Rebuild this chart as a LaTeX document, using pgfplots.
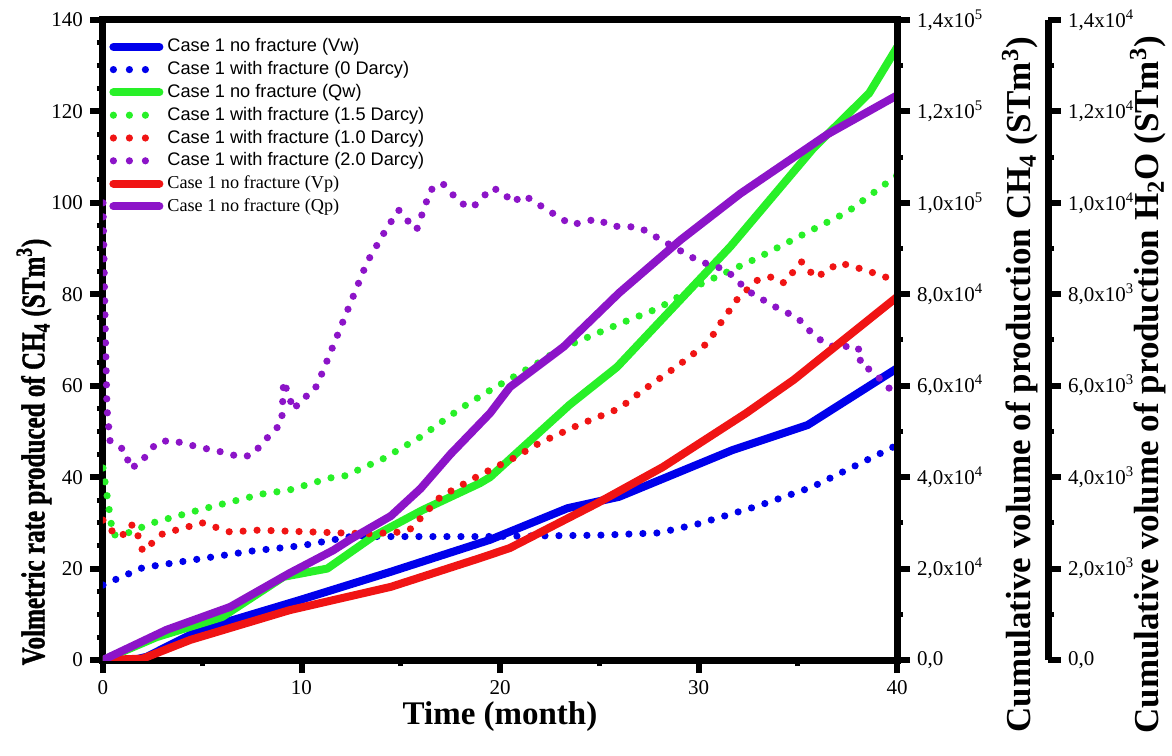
\documentclass[border=0pt]{standalone}
\usepackage{pgfplots}
\pgfplotsset{compat=1.18}
\usepackage{fontspec}
\setmainfont{Liberation Serif}
\newfontfamily\arial{Liberation Sans}
\newfontfamily\heavy{Liberation Serif}[BoldFeatures={FakeBold=1.5}]
\definecolor{cblue}{RGB}{0,0,235}
\definecolor{cgreen}{RGB}{40,240,40}
\definecolor{cred}{RGB}{240,20,20}
\definecolor{cpurple}{RGB}{140,20,200}
\pgfplotsset{
  base/.style={scale only axis, width=397pt, height=320pt,
    xmin=0, xmax=40, ymin=0, ymax=140,
    axis line style={line width=3.5pt, black},
    tick align=outside, major tick length=6.5pt, minor tick length=3pt,
    every major tick/.append style={line width=3pt, black},
    every minor tick/.append style={line width=2.5pt, black},
    /pgf/number format/assume math mode=true,
    tick label style={font=\fontsize{10.5}{12}\selectfont},
  },
  solidS/.style={line width=4pt, line join=round, line cap=round},
  dotS/.style={line width=3.6pt, line cap=round, dash pattern=on 0pt off 7pt,
    legend image post style={dash pattern=on 0pt off 8pt}},
}
\begin{document}
\begin{tikzpicture}
\begin{axis}[base, at={(0,0)}, anchor=south west,
  xtick={0,10,...,40}, minor x tick num=1,
  ytick={0,20,...,140}, minor y tick num=3,
  xtick pos=bottom, ytick pos=left,
  xlabel={Time (month)},
  xlabel style={at={(axis description cs:0.5,-0.088)}, anchor=center, font=\bfseries\fontsize{16.5}{18}\selectfont},
  ylabel={\scalebox{0.76}[1]{Volmetric rate produced of CH\textsubscript{4} (STm\textsuperscript{3})}},
  ylabel style={at={(axis description cs:-0.087,0.325)}, anchor=center, rotate=0, font=\heavy\bfseries\fontsize{16.5}{18}\selectfont},
  legend image code/.code={\draw[#1] (0pt,0pt) -- (23pt,0pt);},
  legend cell align=left,
  legend style={at={(0,1)}, anchor=north west, xshift=3pt, yshift=-7.5pt,
    draw=none, fill=none, inner xsep=0pt, inner ysep=0pt, row sep=0pt,
    font=\fontsize{9.1}{11}\selectfont,
    nodes={inner ysep=1.2pt, inner xsep=2pt, text height=7pt, text depth=2pt}},
]
\addplot[cblue, solidS] coordinates {(0,0)(1.5,0)(2.2,0.7)(4.9,6.6)(9.9,13.1)(14.5,19.3)(19.5,26.3)(23.4,33.2)(26,35.7)(31.7,45.9)(35.5,51.4)(40,63.8)};
\addlegendentry{\arial Case 1 no fracture (Vw)}
\addplot[cblue, dotS] coordinates {(0,16.4)(2,20.2)(5,22.2)(7.6,23.9)(10,25)(12.6,27.1)(14,27)(19,27)(25,27.3)(28,27.8)(30,29.8)(33,33.7)(35.7,37.8)(38,42.7)(40,47)};
\addlegendentry{\arial Case 1 with fracture (0 Darcy)}
\addplot[cgreen, solidS] coordinates {(0,0)(2.7,5)(6,9.4)(9.1,18.2)(11.3,20)(13.6,27)(16.1,32.8)(19,38.7)(19.5,40)(23.5,55.8)(25.9,64.1)(31.6,90.4)(35.8,112)(38.6,124)(40,134)};
\addlegendentry{\arial Case 1 no fracture (Qw)}
\addplot[cgreen, dotS] coordinates {(0,42)(0.5,27.3)(1.2,27.7)(2.5,30)(5,33)(8,36.3)(9.4,37.2)(11.4,39.8)(12.2,40.3)(14.1,44)(16,48.8)(18,55)(19.5,59)(22,65.2)(23,68)(26,73.5)(28,77)(30,82)(33,88)(35.5,93.6)(37.5,98)(40,106)};
\addlegendentry{\arial Case 1 with fracture (1.5 Darcy)}
\addplot[cred, dotS] coordinates {(0,30.6)(0.5,28)(0.95,27)(1.3,29.5)(1.6,29.5)(2,23.8)(3,27.6)(5,30)(6.4,28)(7.8,28.4)(12,27.8)(13.5,27.6)(15,28)(15.5,28.7)(17,35.7)(19,40.5)(20.7,44.2)(22,47.5)(24,51.5)(26,55)(27.2,59)(29,64.5)(30.5,69.5)(31,73)(32,79.2)(33,83.2)(33.7,83.8)(34.3,82.5)(35.2,87.1)(35.9,83.6)(37.1,86.9)(38.4,85.3)(39.6,83.5)};
\addlegendentry{\arial Case 1 with fracture (1.0 Darcy)}
\addplot[cpurple, dotS] coordinates {(0,100)(0.1,75)(0.2,55)(0.35,48)(0.76,47)(1.2,45.3)(1.3,42)(1.8,42.7)(2.7,47.5)(3.4,48.1)(4.8,46.6)(6.2,45.3)(6.9,44.4)(7.5,44.8)(8.5,49.7)(9,51.8)(9.1,61)(9.3,58.6)(9.6,54.7)(10,57.1)(10.6,58.6)(10.9,61.3)(11.9,72)(13.3,87)(14.3,94.5)(14.9,98.4)(15.3,96.3)(15.8,94.1)(16.5,102.8)(17.1,104.3)(18,100)(18.6,98.9)(19.6,103.3)(20.2,102.2)(20.6,100)(21.2,101.7)(22.4,98.4)(23.6,95.2)(24.9,96.5)(25.6,94.9)(27,94.7)(28.2,91.7)(30,87.3)(31.4,85.3)(32.5,80.7)(33.8,77.4)(35,74.8)(35.8,71.1)(36.5,68.9)(37.1,68.3)(37.8,68.9)(38.3,67.2)(38.1,65)(38.8,63)(39.8,58.6)};
\addlegendentry{\arial Case 1 with fracture (2.0 Darcy)}
\addplot[cred, solidS] coordinates {(0,0)(2,0.3)(4.4,4.4)(9.4,10.9)(14.5,16)(19,22.3)(20.5,24.5)(24.9,34.3)(28.2,42.2)(32.4,54)(34.8,61.3)(40,79.4)};
\addlegendentry{Case 1 no fracture (Vp)}
\addplot[cpurple, solidS] coordinates {(0,0)(3.2,6.6)(6.4,11.6)(9.4,19)(11.6,24)(12.5,26.5)(14.5,31.5)(16,37.5)(17.5,45)(19.5,54)(20.5,59.7)(23.2,68.5)(26,80.3)(29.1,91.9)(32.1,102)(36.5,115)(40,123.5)};
\addlegendentry{Case 1 no fracture (Qp)}
\end{axis}
\begin{axis}[base, at={(0,0)}, anchor=south west,
  axis y line*=right, axis x line=none,
  ytick={0,20,...,140}, minor y tick num=1,
  yticklabels={{0,0},{2,0x10\textsuperscript{4}},{4,0x10\textsuperscript{4}},{6,0x10\textsuperscript{4}},{8,0x10\textsuperscript{4}},{1,0x10\textsuperscript{5}},{1,2x10\textsuperscript{5}},{1,4x10\textsuperscript{5}}},
  ylabel={Cumulative volume of production CH\textsubscript{4} (STm\textsuperscript{3})},
  ylabel style={at={(axis description cs:1.155,0.43)}, anchor=center, rotate=0, font=\bfseries\fontsize{17.5}{19}\selectfont},
]
\addplot[draw=none] coordinates {(0,0)};
\end{axis}
\begin{axis}[base, at={(75.5pt,0)}, anchor=south west,
  axis y line*=right, axis x line=none,
  ytick={0,20,...,140}, minor y tick num=1,
  yticklabels={{0,0},{2,0x10\textsuperscript{3}},{4,0x10\textsuperscript{3}},{6,0x10\textsuperscript{3}},{8,0x10\textsuperscript{3}},{1,0x10\textsuperscript{4}},{1,2x10\textsuperscript{4}},{1,4x10\textsuperscript{4}}},
  ylabel={Cumulative volume of production H\textsubscript{2}O (STm\textsuperscript{3})},
  ylabel style={at={(axis description cs:1.126,0.43)}, anchor=center, rotate=0, font=\bfseries\fontsize{17.5}{19}\selectfont},
]
\addplot[draw=none] coordinates {(0,0)};
\end{axis}
\pgfresetboundingbox
\path (-51.5pt,-47.5pt) rectangle (534.5pt,330pt);
\end{tikzpicture}
\end{document}
